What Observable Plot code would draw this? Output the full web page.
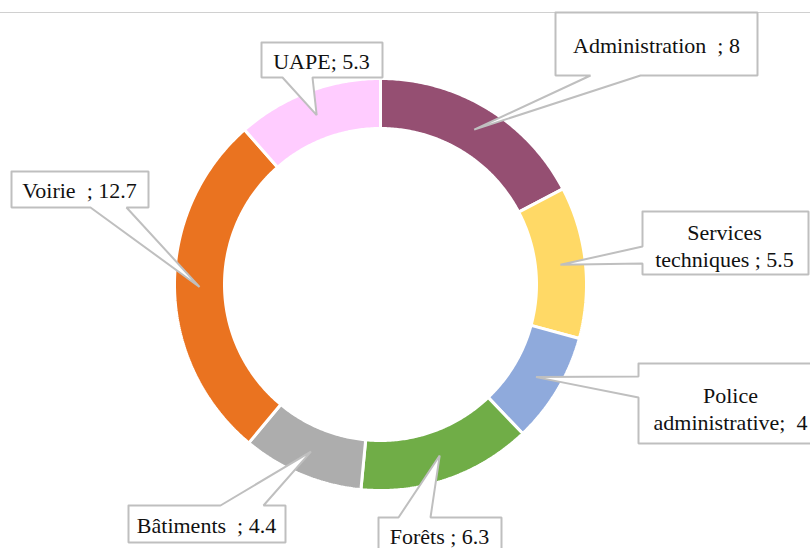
<!DOCTYPE html>
<html>
<head>
<meta charset="utf-8">
<script src="https://cdn.jsdelivr.net/npm/d3@7"></script>
<script src="https://cdn.jsdelivr.net/npm/@observablehq/plot@0.6"></script>
<style>
  html, body { margin: 0; padding: 0; background: #fff; overflow: hidden; }
  #chart svg { display: block; overflow: hidden; }
  #chart svg text { font-family: "Liberation Serif", "Times New Roman", Times, "DejaVu Serif", serif; }
</style>
</head>
<body>
<div id="chart"></div>
<script>
// ---- data ----
const categories = ["Administration", "Services techniques", "Police administrative", "Forêts", "Bâtiments", "Voirie", "UAPE"];
const values = [8, 5.5, 4, 6.3, 4.4, 12.7, 5.3];
const labels = ["Administration  ; 8", "Services\ntechniques ; 5.5", "Police\nadministrative;  4", "Forêts ; 6.3", "Bâtiments  ; 4.4", "Voirie  ; 12.7", "UAPE; 5.3"];
const colors = ["#954F72", "#FFD966", "#8FAADC", "#70AD47", "#ADADAD", "#EA7320", "#FFCCFF"];

// ---- layout ----
const W = 810, H = 548;
const cx = 380, cy = 284, rOuter = 206, rInner = 156, rTip = 181;
// callout boxes: [x0, y0, x1, y1], side of the pointer, pointer base [a, b], text center
const callouts = {
  "Administration":        {box: [555, 12, 757, 75],  side: "bottom", base: [590, 640], text: [656, 44]},
  "Services techniques":   {box: [642, 211, 808, 274], side: "left",  base: [246, 263], text: [724, 244]},
  "Police administrative": {box: [638, 363, 840, 443], side: "left",  base: [376, 397], text: [730, 407]},
  "Forêts":                {box: [378, 517, 501, 570], side: "top",   base: [398, 430], text: [439, 535]},
  "Bâtiments":             {box: [128, 505, 285, 542], side: "top",   base: [220, 263], text: [206, 524]},
  "Voirie":                {box: [11, 171, 148, 207],  side: "bottom", base: [90, 126], text: [79, 189]},
  "UAPE":                  {box: [261, 42, 382, 77],   side: "bottom", base: [282, 312], text: [321, 60]}
};
const frameY = 12;

// ---- geometry from data ----
const arcs = d3.pie().sort(null).value(d => d)(values);
const pt = (a, r) => [cx + r * Math.sin(a), cy - r * Math.cos(a)];

const slicePts = [];
arcs.forEach((a, i) => {
  const n = Math.max(8, Math.ceil((a.endAngle - a.startAngle) / 0.01));
  const pts = [];
  for (let k = 0; k <= n; k++) pts.push(pt(a.startAngle + (a.endAngle - a.startAngle) * k / n, rOuter));
  for (let k = n; k >= 0; k--) pts.push(pt(a.startAngle + (a.endAngle - a.startAngle) * k / n, rInner));
  pts.push(pts[0]);
  pts.forEach(([x, y]) => slicePts.push({cat: categories[i], x, y}));
});

const calloutPts = [];
const textRows = [];
arcs.forEach((a, i) => {
  const cat = categories[i];
  const c = callouts[cat];
  const tip = pt((a.startAngle + a.endAngle) / 2, rTip);
  const [x0, y0, x1, y1] = c.box;
  const [p, q] = c.base;
  let pts;
  if (c.side === "bottom") {
    pts = [[x0, y0], [x1, y0], [x1, y1], [q, y1], tip, [p, y1], [x0, y1], [x0, y0]];
  } else if (c.side === "top") {
    pts = [[x0, y0], [p, y0], tip, [q, y0], [x1, y0], [x1, y1], [x0, y1], [x0, y0]];
  } else {
    pts = [[x0, y0], [x1, y0], [x1, y1], [x0, y1], [x0, q], tip, [x0, p], [x0, y0]];
  }
  pts.forEach(([x, y]) => calloutPts.push({cat, x, y}));
  textRows.push({cat, label: labels[i], x: c.text[0], y: c.text[1]});
});

const chart = Plot.plot({
  width: W,
  height: H,
  margin: 0,
  x: {domain: [0, W], range: [0, W], axis: null},
  y: {domain: [0, H], range: [0, H], axis: null},
  color: {domain: categories, range: colors},
  style: {background: "#fff"},
  marks: [
    Plot.ruleY([frameY], {stroke: "#d0d0d0", strokeWidth: 1}),
    Plot.line(slicePts, {x: "x", y: "y", z: "cat", fill: "cat", stroke: "#fff", strokeWidth: 3, strokeLinejoin: "miter", curve: "linear"}),
    Plot.line(calloutPts, {x: "x", y: "y", z: "cat", fill: "#fff", stroke: "#bfbfbf", strokeWidth: 2, strokeLinejoin: "miter", curve: "linear"}),
    Plot.text(textRows, {x: "x", y: "y", text: "label", fontFamily: "Liberation Serif", fontSize: 22, fill: "#111", lineHeight: 1.22, textAnchor: "middle"})
  ]
});
document.getElementById("chart").appendChild(chart);
</script>
</body>
</html>
